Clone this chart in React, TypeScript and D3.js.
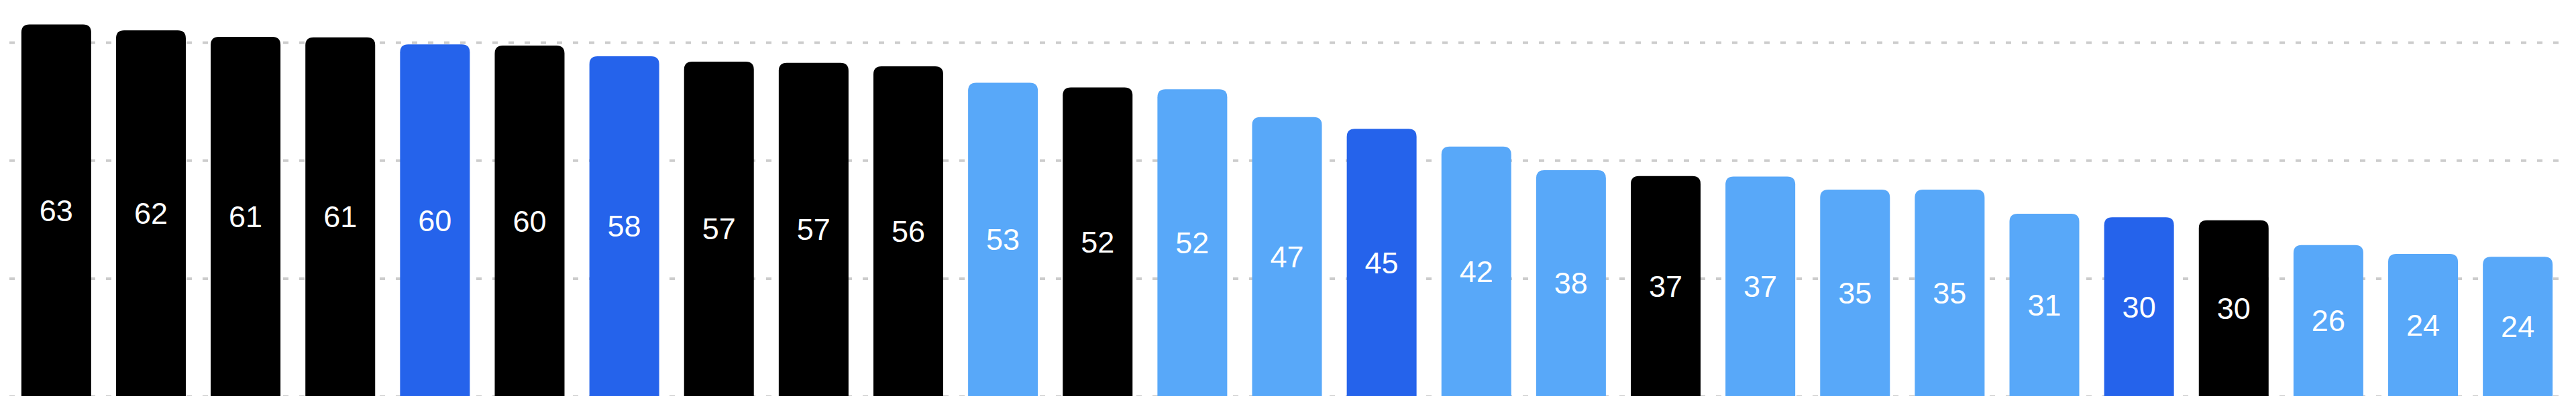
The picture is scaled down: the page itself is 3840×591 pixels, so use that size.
import { useEffect, useRef } from "react";
import * as d3 from "d3";

// bar values (labels are rounded)
const values = [
  63.1, 62.1, 61.0, 60.9, 59.7, 59.5, 57.7, 56.8, 56.6, 56.0, 53.2, 52.4, 52.1,
  47.4, 45.4, 42.4, 38.4, 37.4, 37.3, 35.1, 35.1, 31.0, 30.4, 29.9, 25.7, 24.2,
  23.7,
];

// colour group of every bar
const groups = [
  "dark", "dark", "dark", "dark", "blue", "dark", "blue", "dark", "dark",
  "dark", "light", "dark", "light", "light", "blue", "light", "light", "dark",
  "light", "light", "light", "light", "blue", "dark", "light", "light", "light",
];

const gridTicks = [0, 20, 40, 60];

const groupColors: Record<string, string> = {
  dark: "#000000",
  blue: "#2563eb",
  light: "#58a8f9",
};

export default function App() {
  const svgRef = useRef<SVGSVGElement>(null);
  const width = 3840;
  const height = 591;

  useEffect(() => {
    if (!svgRef.current) return;

    const svg = d3.select(svgRef.current);
    svg.selectAll("*").remove();

    const x = d3
      .scaleBand<number>()
      .domain(d3.range(values.length))
      .range([13.5, 3823.5])
      .paddingInner(0.263)
      .paddingOuter(0.13);

    const y = d3.scaleLinear().domain([0, 60]).range([592, 63.7]);

    // dashed grid lines
    svg
      .append("g")
      .selectAll("line")
      .data(gridTicks)
      .join("line")
      .attr("x1", 14)
      .attr("x2", 3814)
      .attr("y1", (d) => y(d))
      .attr("y2", (d) => y(d))
      .attr("stroke", "#cccccc")
      .attr("stroke-width", 4)
      .attr("stroke-dasharray", "8,16");

    // bars with rounded top corners only
    const r = 12;
    const barPath = (i: number) => {
      const x0 = x(i)!;
      const x1 = x0 + x.bandwidth();
      const top = y(values[i]);
      const bottom = y(0) + 10;
      return `M${x0},${bottom}V${top + r}Q${x0},${top} ${x0 + r},${top}H${x1 - r}Q${x1},${top} ${x1},${top + r}V${bottom}Z`;
    };

    svg
      .append("g")
      .selectAll("path")
      .data(values)
      .join("path")
      .attr("d", (_, i) => barPath(i))
      .attr("fill", (_, i) => groupColors[groups[i]]);

    // value labels in the middle of each bar
    svg
      .append("g")
      .selectAll("text")
      .data(values)
      .join("text")
      .attr("x", (_, i) => x(i)! + x.bandwidth() / 2)
      .attr("y", (d) => (y(d) + y(0)) / 2)
      .attr("text-anchor", "middle")
      .attr("dominant-baseline", "central")
      .attr("font-family", "'Liberation Sans', Arial, sans-serif")
      .attr("font-size", "45px")
      .attr("fill", "#ffffff")
      .text((d) => Math.round(d));
  }, []);

  return (
    <svg
      ref={svgRef}
      width={width}
      height={height}
      style={{ position: "absolute", left: 0, top: 0, background: "#ffffff" }}
    ></svg>
  );
}
